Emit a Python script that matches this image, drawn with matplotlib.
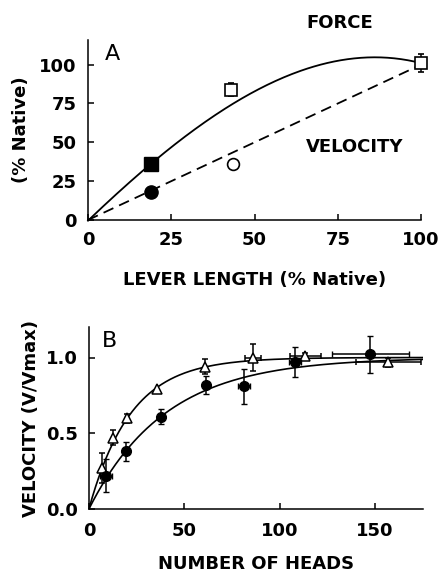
import numpy as np
import matplotlib
matplotlib.use("Agg")
import matplotlib.pyplot as plt

plt.rcParams['font.family'] = ['DejaVu Sans']
plt.rcParams['font.weight'] = 'bold'

# panel A: lever length vs force / velocity (% native)
force_fill_x, force_fill_y = [19], [36]
force_open_x = [43, 100]
force_open_y = [84, 101]
force_open_err = [4, 6]
vel_fill_x, vel_fill_y = [19], [18]
vel_open_x, vel_open_y = [43.5], [36]
# points
force_curve_x = [0, 10, 19, 30, 43, 60, 75, 85, 95, 100]
force_curve_y = [0, 19, 36, 55, 75, 93, 102, 104.5, 103.5, 101]
vel_line_x = [0, 100]
vel_line_y = [0, 100]

# panel B: number of heads vs velocity
tri_x = [7, 12.5, 20, 35.5, 61, 86, 113.5, 157]
tri_y = [0.27, 0.47, 0.60, 0.79, 0.94, 1.00, 1.01, 0.97]
tri_yerr = [0.10, 0.05, 0.03, 0.0, 0.05, 0.09, 0.02, 0.03]
tri_xerr = [0, 0, 0, 0, 0, 4, 8, 17]
circ_x = [9, 19.7, 37.6, 61.3, 81.4, 108, 147.5]
circ_y = [0.22, 0.38, 0.61, 0.82, 0.81, 0.97, 1.02]
circ_yerr = [0.11, 0.06, 0.05, 0.06, 0.115, 0.10, 0.12]
circ_xerr = [3, 0, 0, 0, 3, 3, 20]
# rate constants of the fitted saturation curves (heads)
k_tri, k_circ = 22.0, 40.0

fig = plt.figure(figsize=(4.4, 5.72), dpi=100)
axA = fig.add_axes([0.2, 0.6154, 0.757, 0.315])
axB = fig.add_axes([0.202, 0.110, 0.759, 0.318])

FS = 13

for ax in (axA, axB):
    ax.spines['top'].set_visible(False)
    ax.spines['right'].set_visible(False)
    for s in ('left', 'bottom'):
        ax.spines[s].set_linewidth(1.1)
    ax.tick_params(direction='in', length=4, width=1.1, labelsize=FS, pad=8)
axB.tick_params(axis='x', pad=9.5)

# panel A
cx = np.linspace(0, 100, 200)
coef = np.polyfit(force_curve_x, force_curve_y, 3)
axA.plot(cx, np.polyval(coef, cx), color='black', lw=1.3, clip_on=False)
axA.plot(vel_line_x, vel_line_y, color='black', lw=1.3, ls=(0, (6, 3.5)), clip_on=False)
axA.errorbar(force_open_x, force_open_y, yerr=force_open_err, fmt='s', mfc='white',
             mec='black', mew=1.2, ms=8, ecolor='black', elinewidth=1.1, capsize=2.5,
             clip_on=False, zorder=4)
axA.plot(force_fill_x, force_fill_y, 's', color='black', ms=9.5, zorder=5)
axA.plot(vel_fill_x, vel_fill_y, 'o', color='black', ms=9.5, zorder=5)
axA.plot(vel_open_x, vel_open_y, 'o', mfc='white', mec='black', mew=1.2, ms=8.5, zorder=5)
axA.set_xlim(0, 100)
axA.set_ylim(0, 116)
axA.set_xticks([0, 25, 50, 75, 100])
axA.set_yticks([0, 25, 50, 75, 100])
axA.set_xlabel('LEVER LENGTH (% Native)', fontsize=FS, fontweight='bold', labelpad=16)
axA.set_ylabel('(% Native)', fontsize=FS, fontweight='bold', labelpad=7)
axA.text(65.5, 127, 'FORCE', fontsize=FS, fontweight='bold', va='center')
axA.text(65.5, 47, 'VELOCITY', fontsize=FS, fontweight='bold', va='center')
axA.text(5, 107, 'A', fontsize=16, fontweight='normal', va='center')

# panel B
hx = np.linspace(0, 175, 300)
axB.plot(hx, 1 - np.exp(-hx / k_tri), color='black', lw=1.2)
axB.plot(hx, 1 - np.exp(-hx / k_circ), color='black', lw=1.2)
axB.errorbar(tri_x, tri_y, yerr=tri_yerr, xerr=tri_xerr, fmt='^', mfc='white', mec='black',
             mew=1.1, ms=7, ecolor='black', elinewidth=1.1, capsize=2.5, zorder=4)
axB.errorbar(circ_x, circ_y, yerr=circ_yerr, xerr=circ_xerr, fmt='o', color='black',
             ms=7, ecolor='black', elinewidth=1.1, capsize=2.5, zorder=5)
axB.set_xlim(0, 175)
axB.set_ylim(0, 1.2)
axB.set_xticks([0, 50, 100, 150])
axB.set_yticks([0, 0.5, 1.0])
axB.set_yticklabels(['0.0', '0.5', '1.0'])
axB.set_xlabel('NUMBER OF HEADS', fontsize=FS, fontweight='bold', labelpad=10.5)
axB.set_ylabel('VELOCITY (V/Vmax)', fontsize=FS, fontweight='bold', labelpad=4)
axB.text(6.8, 1.106, 'B', fontsize=16, fontweight='normal', va='center')

for ax in (axA, axB):
    for lab in ax.get_xticklabels() + ax.get_yticklabels():
        lab.set_fontweight('bold')

fig.savefig('out.png', dpi=100)
